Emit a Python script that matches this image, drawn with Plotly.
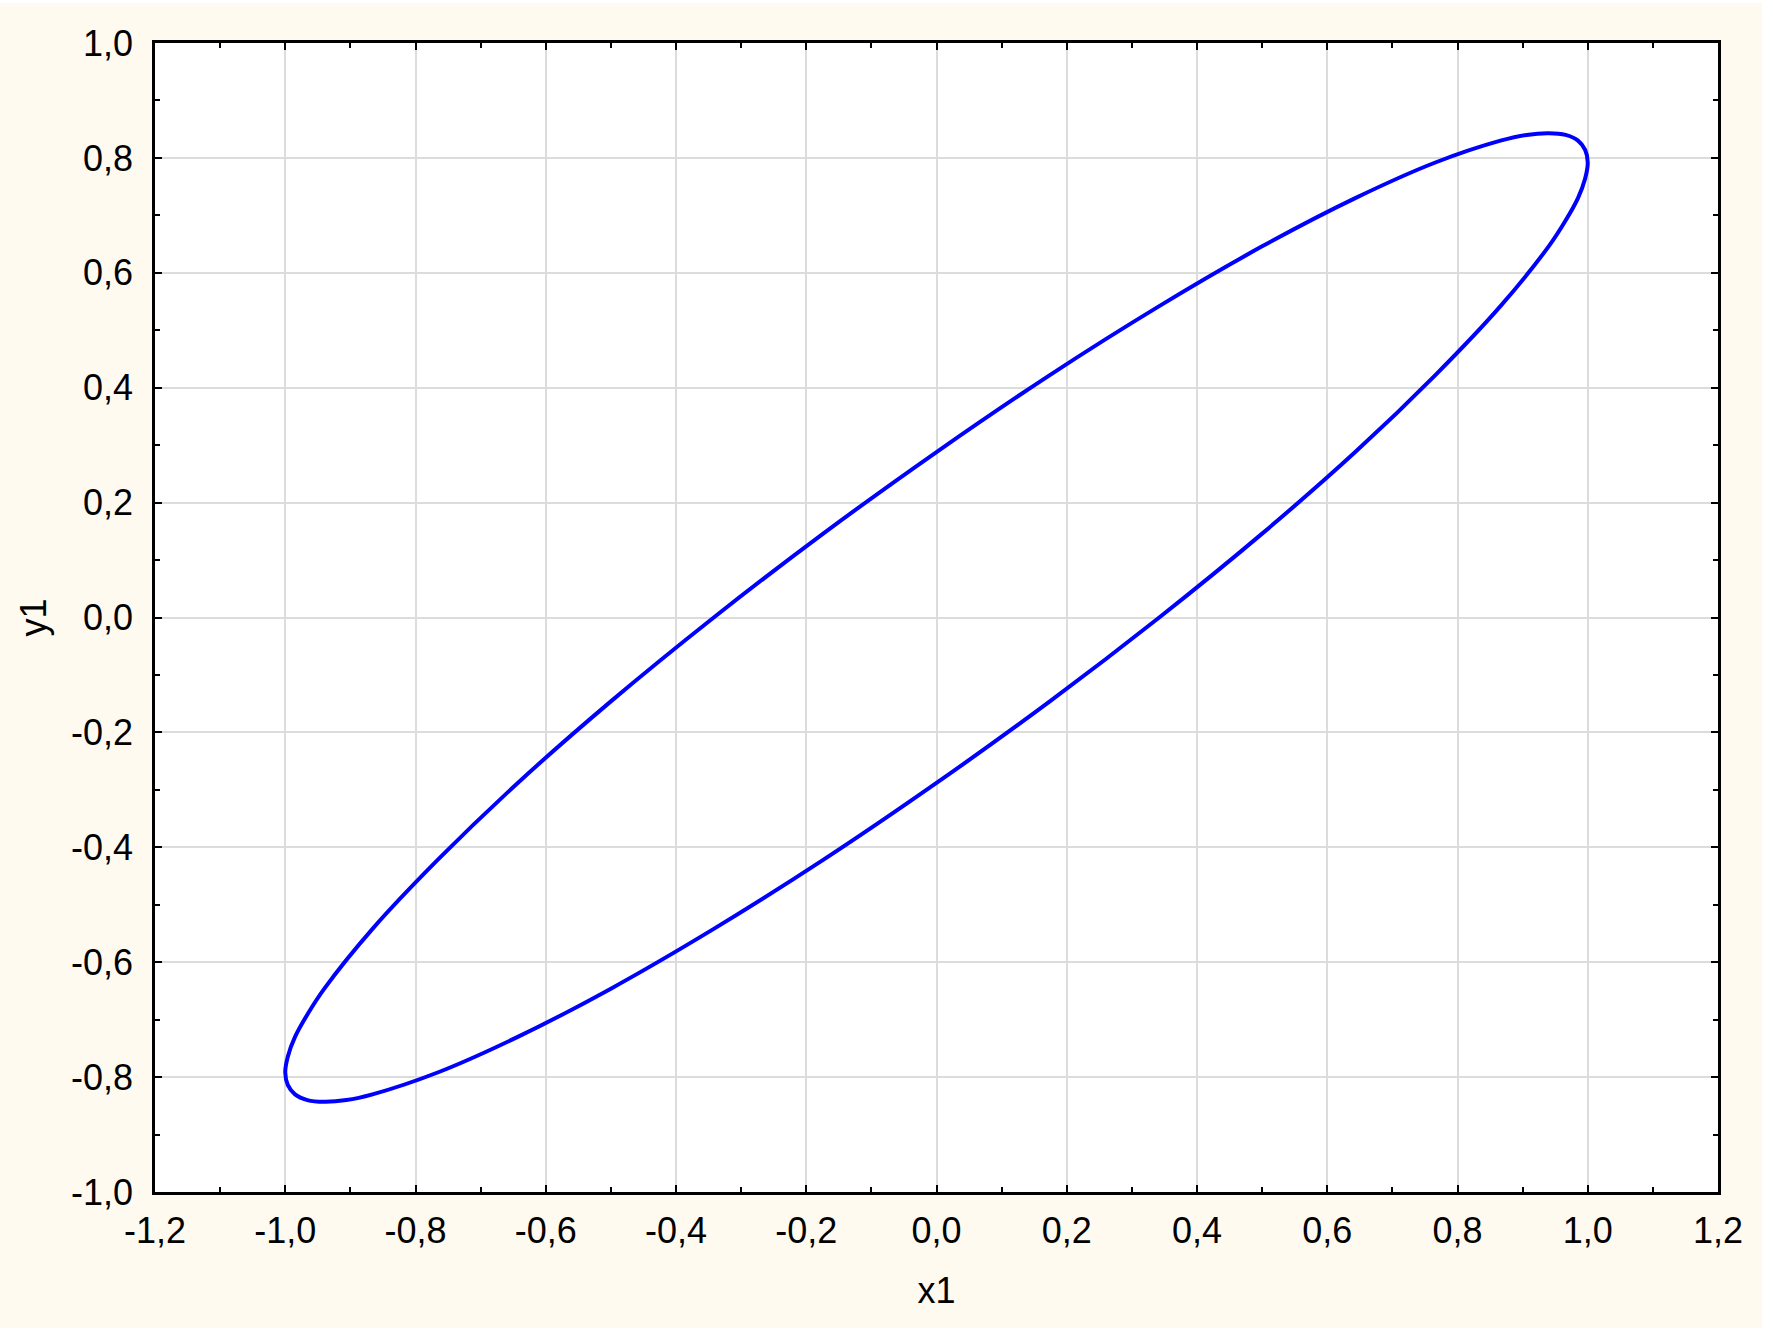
import plotly.graph_objects as go

# Points (x1, y1)
x1 = [1.000, 0.996, 0.985, 0.966, 0.940, 0.906, 0.866, 0.766, 0.643, 0.500, 0.342, 0.174, 0.000,
      -0.174, -0.342, -0.500, -0.643, -0.766, -0.866, -0.940, -0.966, -0.985, -0.996, -1.000,
      -0.996, -0.985, -0.966, -0.940, -0.906, -0.866, -0.766, -0.643, -0.500, -0.342, -0.174, 0.000,
      0.174, 0.342, 0.500, 0.643, 0.766, 0.866, 0.940, 0.966, 0.985, 0.996, 1.000]
y1 = [0.792, 0.814, 0.830, 0.840, 0.843, 0.840, 0.830, 0.792, 0.730, 0.646, 0.542, 0.422, 0.288,
      0.146, 0.000, -0.146, -0.288, -0.422, -0.542, -0.646, -0.691, -0.730, -0.764, -0.792,
      -0.814, -0.830, -0.840, -0.843, -0.840, -0.830, -0.792, -0.730, -0.646, -0.542, -0.422, -0.288,
      -0.146, 0.000, 0.146, 0.288, 0.422, 0.542, 0.646, 0.691, 0.730, 0.764, 0.792]

x_ticks = [-1.2, -1.0, -0.8, -0.6, -0.4, -0.2, 0.0, 0.2, 0.4, 0.6, 0.8, 1.0, 1.2]
x_labels = ["-1,2", "-1,0", "-0,8", "-0,6", "-0,4", "-0,2", "0,0", "0,2", "0,4", "0,6", "0,8", "1,0", "1,2"]
y_ticks = [-1.0, -0.8, -0.6, -0.4, -0.2, 0.0, 0.2, 0.4, 0.6, 0.8, 1.0]
y_labels = ["-1,0", "-0,8", "-0,6", "-0,4", "-0,2", "0,0", "0,2", "0,4", "0,6", "0,8", "1,0"]
x_minor = [-1.1, -0.9, -0.7, -0.5, -0.3, -0.1, 0.1, 0.3, 0.5, 0.7, 0.9, 1.1]
y_minor = [-0.9, -0.7, -0.5, -0.3, -0.1, 0.1, 0.3, 0.5, 0.7, 0.9]

FONT = "Liberation Sans, Arial, sans-serif"
BG = "#FEFAF0"

fig = go.Figure()
fig.add_trace(go.Scatter(
    x=x1, y=y1, mode="lines",
    line=dict(color="#0000FF", width=4, shape="spline", smoothing=1.0),
    showlegend=False, hoverinfo="x+y"))

axis_common = dict(
    showline=True, linecolor="black", linewidth=2.5, mirror="allticks",
    ticks="inside", ticklen=7, tickwidth=2, tickcolor="black",
    showgrid=True, gridcolor="#DCDCDC", gridwidth=1.5,
    zeroline=False,
    tickfont=dict(family=FONT, size=36, color="black"),
)

fig.update_xaxes(**axis_common, range=[-1.2, 1.2], tickvals=x_ticks, ticktext=x_labels,
                 ticklabelstandoff=5,
                 minor=dict(tickvals=x_minor, ticks="inside", ticklen=5, tickwidth=2,
                            tickcolor="black", showgrid=False),
                 title=dict(text="x1", font=dict(family=FONT, size=36, color="black"), standoff=28))
fig.update_yaxes(**axis_common, range=[-1.0, 1.0], tickvals=y_ticks, ticktext=y_labels,
                 ticklabelstandoff=12,
                 minor=dict(tickvals=y_minor, ticks="inside", ticklen=5, tickwidth=2,
                            tickcolor="black", showgrid=False),
                 title=dict(text="y1", font=dict(family=FONT, size=36, color="black"), standoff=14))

fig.update_layout(
    width=1762, height=1325,
    margin=dict(l=155, r=44, t=40, b=136, pad=0),
    paper_bgcolor=BG, plot_bgcolor="white",
    font=dict(family=FONT, size=36, color="black"),
)

fig.write_html("out.html", post_script="document.body.style.margin='3px 0 0 0';")
